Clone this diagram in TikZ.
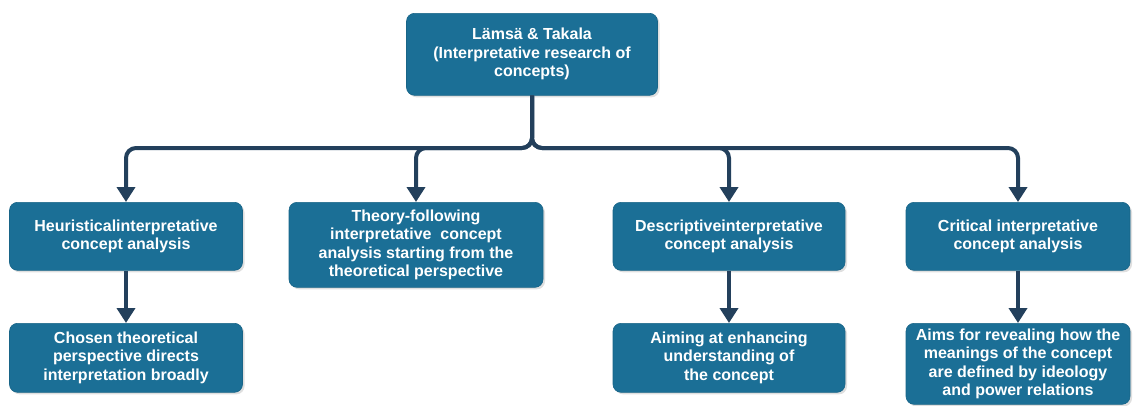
\documentclass[tikz,border=0pt]{standalone}
\usepackage{fontspec}
\setmainfont{Liberation Sans}
\usepackage{xcolor}
\usepackage{tikz}
\usetikzlibrary{arrows.meta, shadows}

\definecolor{boxblue}{RGB}{27,111,150}
\definecolor{linknavy}{RGB}{35,64,92}

\begin{document}
\begin{tikzpicture}[
    x=1pt, y=-1pt,
    box/.style={rectangle, rounded corners=8pt, draw=boxblue!90!black, line width=0.6pt, fill=boxblue,
        text=white, font=\fontsize{16}{18.5}\selectfont\bfseries, align=center, anchor=north,
        inner sep=2pt,
        drop shadow={opacity=0.25, shadow xshift=2pt, shadow yshift=-2pt}},
    link/.style={draw=linknavy, line width=4pt, rounded corners=10pt, -{Triangle[width=18pt,length=15pt]}}
]
\useasboundingbox (0,0) rectangle (1134,405);

\node [box, minimum width=251pt, minimum height=82pt] (top) at (532,13)
    {L\"ams\"a \& Takala\\(Interpretative research of\\concepts)};

\node [box, minimum width=233pt, minimum height=68pt] (heur) at (126,202)
    {Heuristicalinterpretative\\concept analysis};
\node [box, minimum width=254pt, minimum height=85pt] (theo) at (416,202)
    {Theory-following\\interpretative\ \ concept\\analysis starting from the\\theoretical perspective};
\node [box, minimum width=232pt, minimum height=68pt] (desc) at (729,202)
    {Descriptiveinterpretative\\concept analysis};
\node [box, minimum width=224pt, minimum height=68pt] (crit) at (1018,202)
    {Critical interpretative\\concept analysis};

\node [box, minimum width=233pt, minimum height=69pt] (heurAim) at (126,323)
    {Chosen theoretical\\perspective directs\\interpretation broadly};
\node [box, minimum width=232pt, minimum height=69pt] (descAim) at (729,323)
    {Aiming at enhancing\\understanding of\\the concept};
\node [box, minimum width=224pt, minimum height=81pt] (critAim) at (1018,323)
    {Aims for revealing how the\\meanings of the concept\\are defined by ideology\\and power relations};

% branches from the top box
\coordinate (hub) at (532,148);
\draw [link] (top.south) -- (hub) -| (heur.north);
\draw [link] (top.south) -- (hub) -| (theo.north);
\draw [link] (top.south) -- (hub) -| (desc.north);
\draw [link] (top.south) -- (hub) -| (crit.north);

% second level
\draw [link] (heur.south) -- (heurAim.north);
\draw [link] (desc.south) -- (descAim.north);
\draw [link] (crit.south) -- (critAim.north);
\end{tikzpicture}
\end{document}
